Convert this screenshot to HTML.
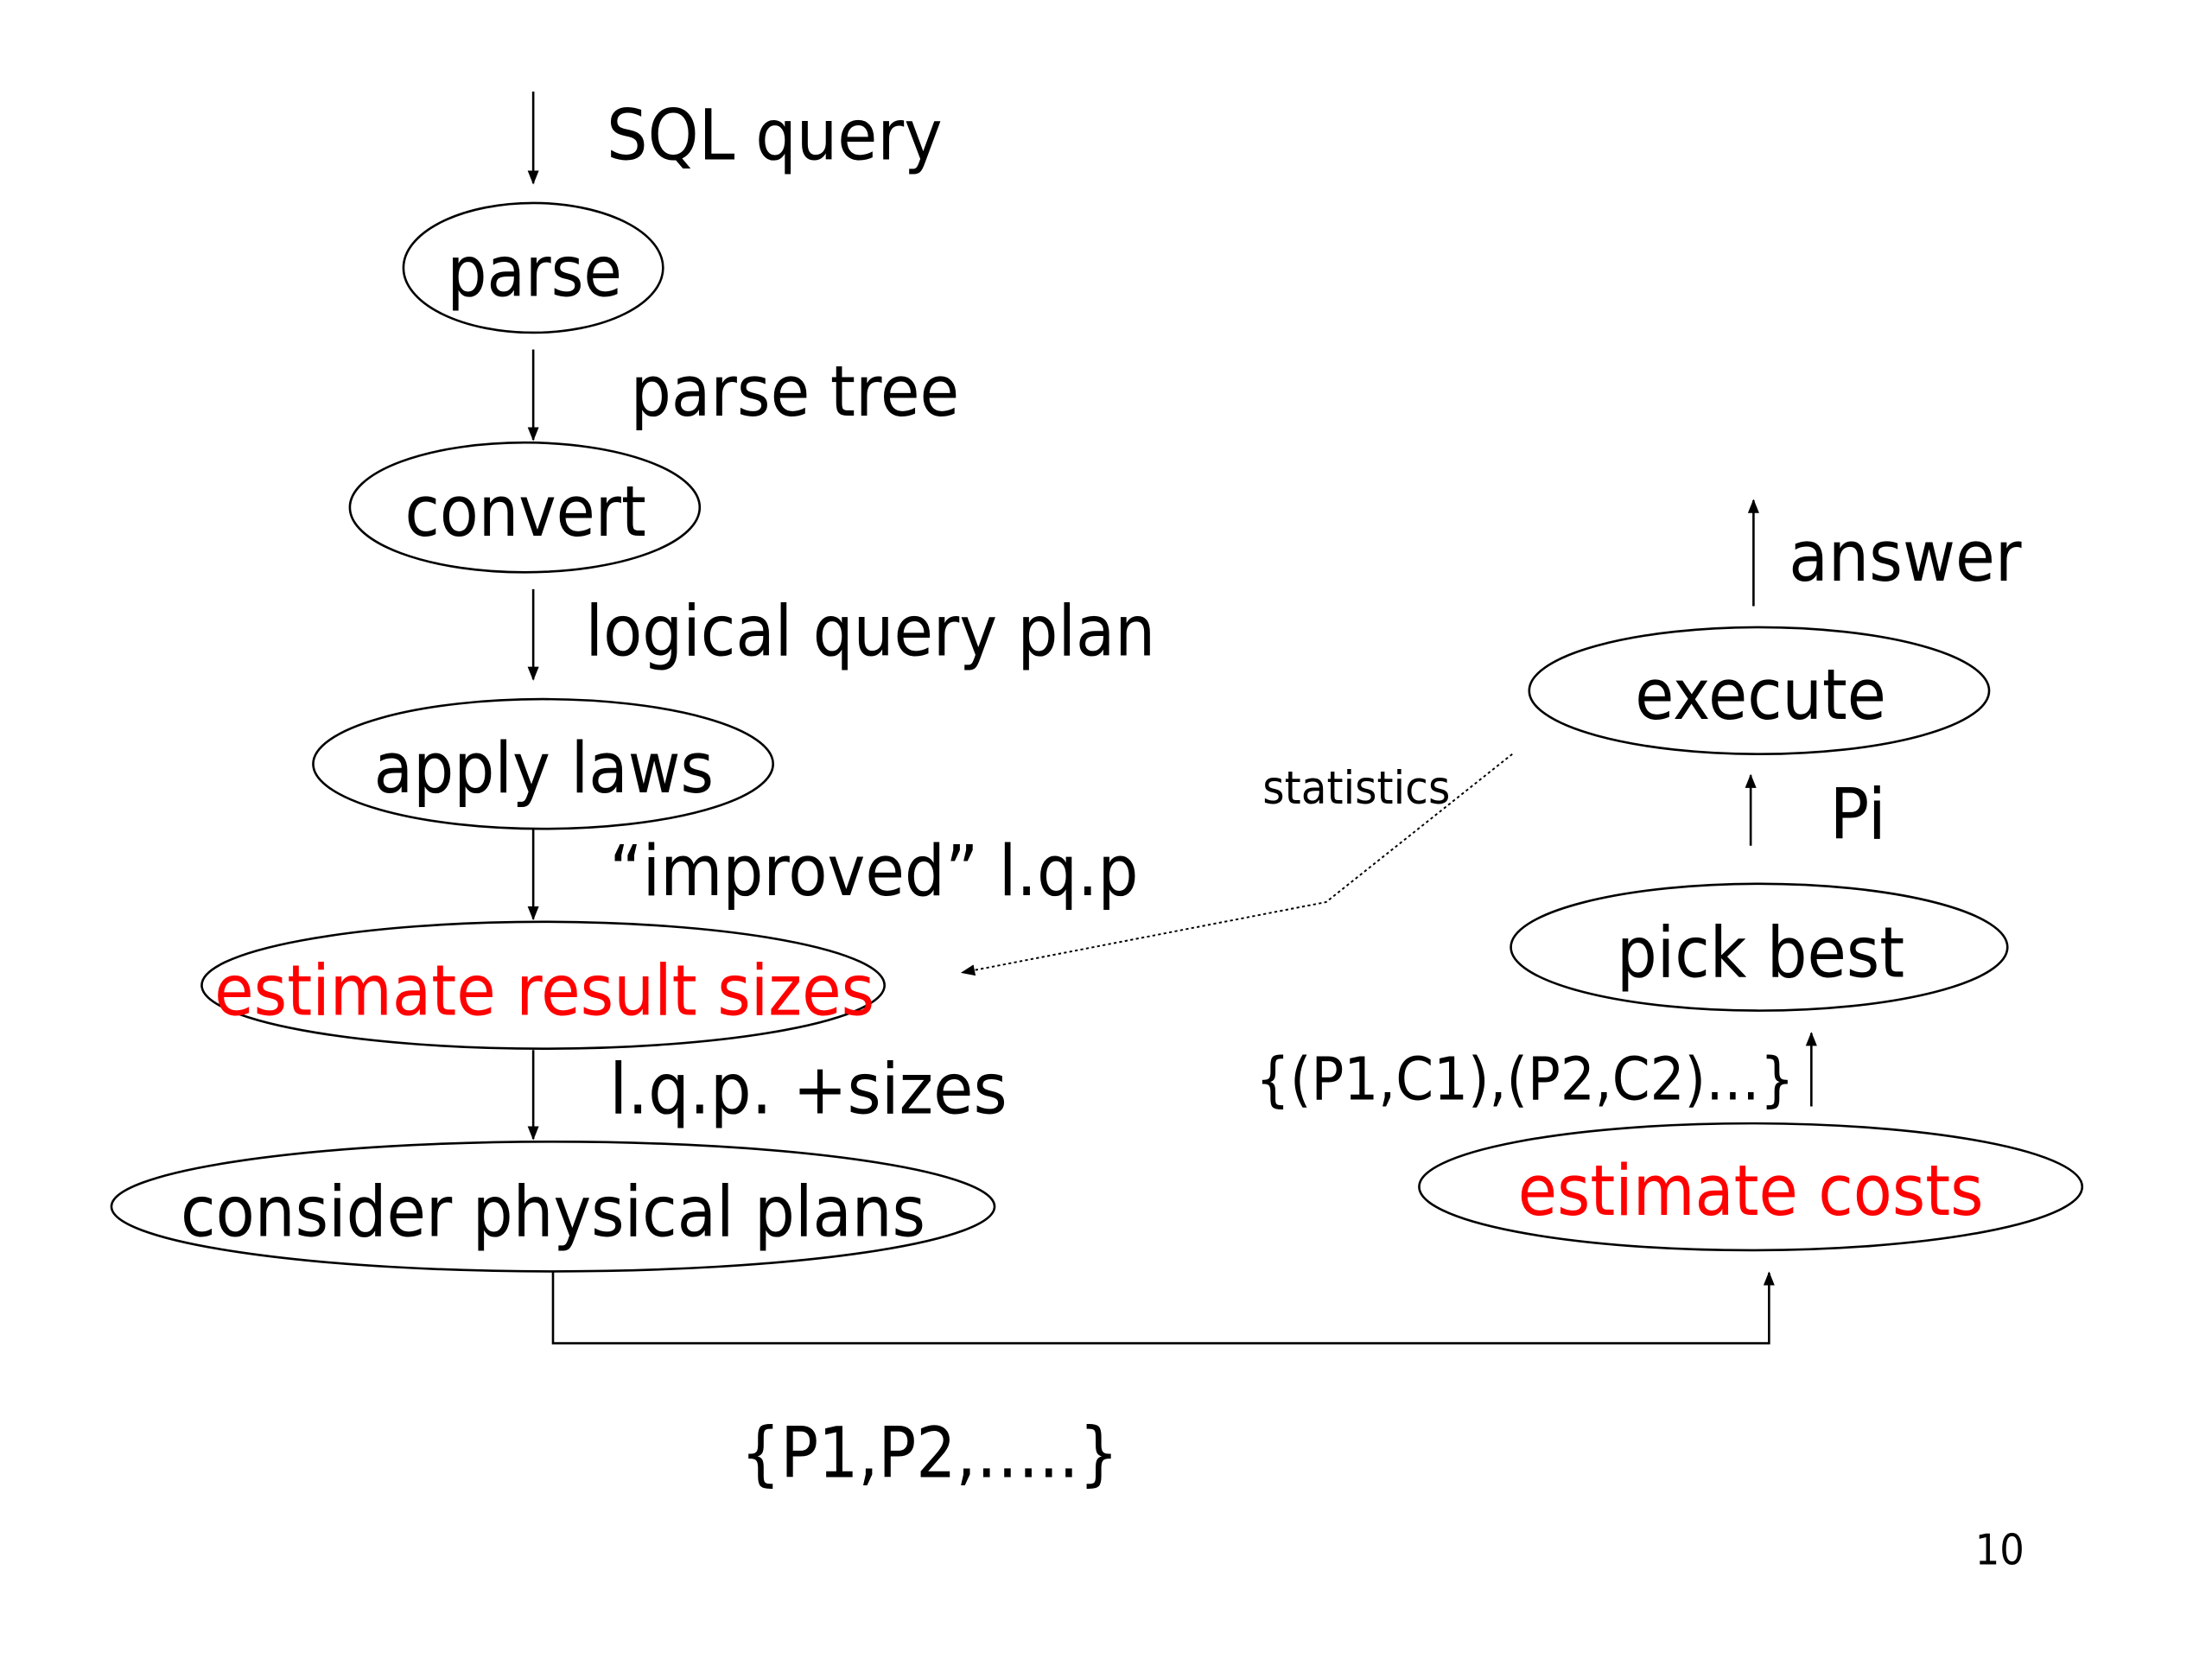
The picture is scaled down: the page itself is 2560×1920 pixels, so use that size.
<!DOCTYPE html>
<html><head><meta charset="utf-8"><style>
html,body{margin:0;padding:0;background:#fff;}
svg{display:block;}
text{font-family:"DejaVu Sans","Liberation Sans",sans-serif;fill:#000;}
</style></head><body>
<svg width="2560" height="1920" viewBox="0 0 1568 1177" preserveAspectRatio="none" xmlns="http://www.w3.org/2000/svg">
<defs>
<marker id="ah" markerWidth="10" markerHeight="10" refX="9" refY="5" orient="auto" markerUnits="userSpaceOnUse">
<path d="M0,1 L10,5 L0,9 z" fill="#000"/></marker>
</defs>
<g stroke="#000" stroke-width="1.6" fill="none">
<line x1="378" y1="65" x2="378" y2="130" marker-end="url(#ah)"/>
<line x1="378" y1="248" x2="378" y2="312" marker-end="url(#ah)"/>
<line x1="378" y1="418" x2="378" y2="482" marker-end="url(#ah)"/>
<line x1="378" y1="588" x2="378" y2="652" marker-end="url(#ah)"/>
<line x1="378" y1="745" x2="378" y2="808" marker-end="url(#ah)"/>
<polyline points="392,902 392,953 1254,953 1254,903" marker-end="url(#ah)"/>
<line x1="1284" y1="785" x2="1284" y2="733" marker-end="url(#ah)"/>
<line x1="1241" y1="600" x2="1241" y2="550" marker-end="url(#ah)"/>
<line x1="1243" y1="430" x2="1243" y2="355" marker-end="url(#ah)"/>
<polyline points="1072,535 940,640 682,690" stroke-dasharray="2,2" stroke-width="1.2" marker-end="url(#ah)"/>
<ellipse cx="378" cy="190" rx="92" ry="46"/>
<ellipse cx="372" cy="360" rx="124" ry="46"/>
<ellipse cx="385" cy="542" rx="163" ry="46"/>
<ellipse cx="385" cy="699" rx="242" ry="45"/>
<ellipse cx="392" cy="856" rx="313" ry="46"/>
<ellipse cx="1241" cy="842" rx="235" ry="45"/>
<ellipse cx="1247" cy="672" rx="176" ry="45"/>
<ellipse cx="1247" cy="490" rx="163" ry="45"/>
</g>
<g font-size="50">
<text x="430" y="113" textLength="238" lengthAdjust="spacingAndGlyphs">SQL query</text>
<text x="317" y="210" textLength="124" lengthAdjust="spacingAndGlyphs">parse</text>
<text x="447" y="295" textLength="233" lengthAdjust="spacingAndGlyphs">parse tree</text>
<text x="287" y="380" textLength="171" lengthAdjust="spacingAndGlyphs">convert</text>
<text x="415" y="465" textLength="404" lengthAdjust="spacingAndGlyphs">logical query plan</text>
<text x="265" y="562" textLength="241" lengthAdjust="spacingAndGlyphs">apply laws</text>
<text x="432" y="635" textLength="375" lengthAdjust="spacingAndGlyphs">“improved” l.q.p</text>
<text x="152" y="720" textLength="468" lengthAdjust="spacingAndGlyphs" style="fill:#f00">estimate result sizes</text>
<text x="432" y="790" textLength="282" lengthAdjust="spacingAndGlyphs">l.q.p. +sizes</text>
<text x="128" y="877" textLength="528" lengthAdjust="spacingAndGlyphs">consider physical plans</text>
<text x="525" y="1048" textLength="268" lengthAdjust="spacingAndGlyphs">{P1,P2,…..}</text>
<text x="1076" y="862" textLength="330" lengthAdjust="spacingAndGlyphs" style="fill:#f00">estimate costs</text>
<text x="1146" y="693" textLength="204" lengthAdjust="spacingAndGlyphs">pick best</text>
<text x="1297" y="595" textLength="40" lengthAdjust="spacingAndGlyphs">Pi</text>
<text x="1159" y="510" textLength="178" lengthAdjust="spacingAndGlyphs">execute</text>
<text x="1268" y="412" textLength="165" lengthAdjust="spacingAndGlyphs">answer</text>
</g>
<text x="890" y="780" font-size="42" textLength="382" lengthAdjust="spacingAndGlyphs">{(P1,C1),(P2,C2)…}</text>
<text x="895" y="570" font-size="32" textLength="133" lengthAdjust="spacingAndGlyphs">statistics</text>
<text x="1400" y="1110" font-size="30" textLength="35" lengthAdjust="spacingAndGlyphs">10</text>
</svg>
</body></html>
